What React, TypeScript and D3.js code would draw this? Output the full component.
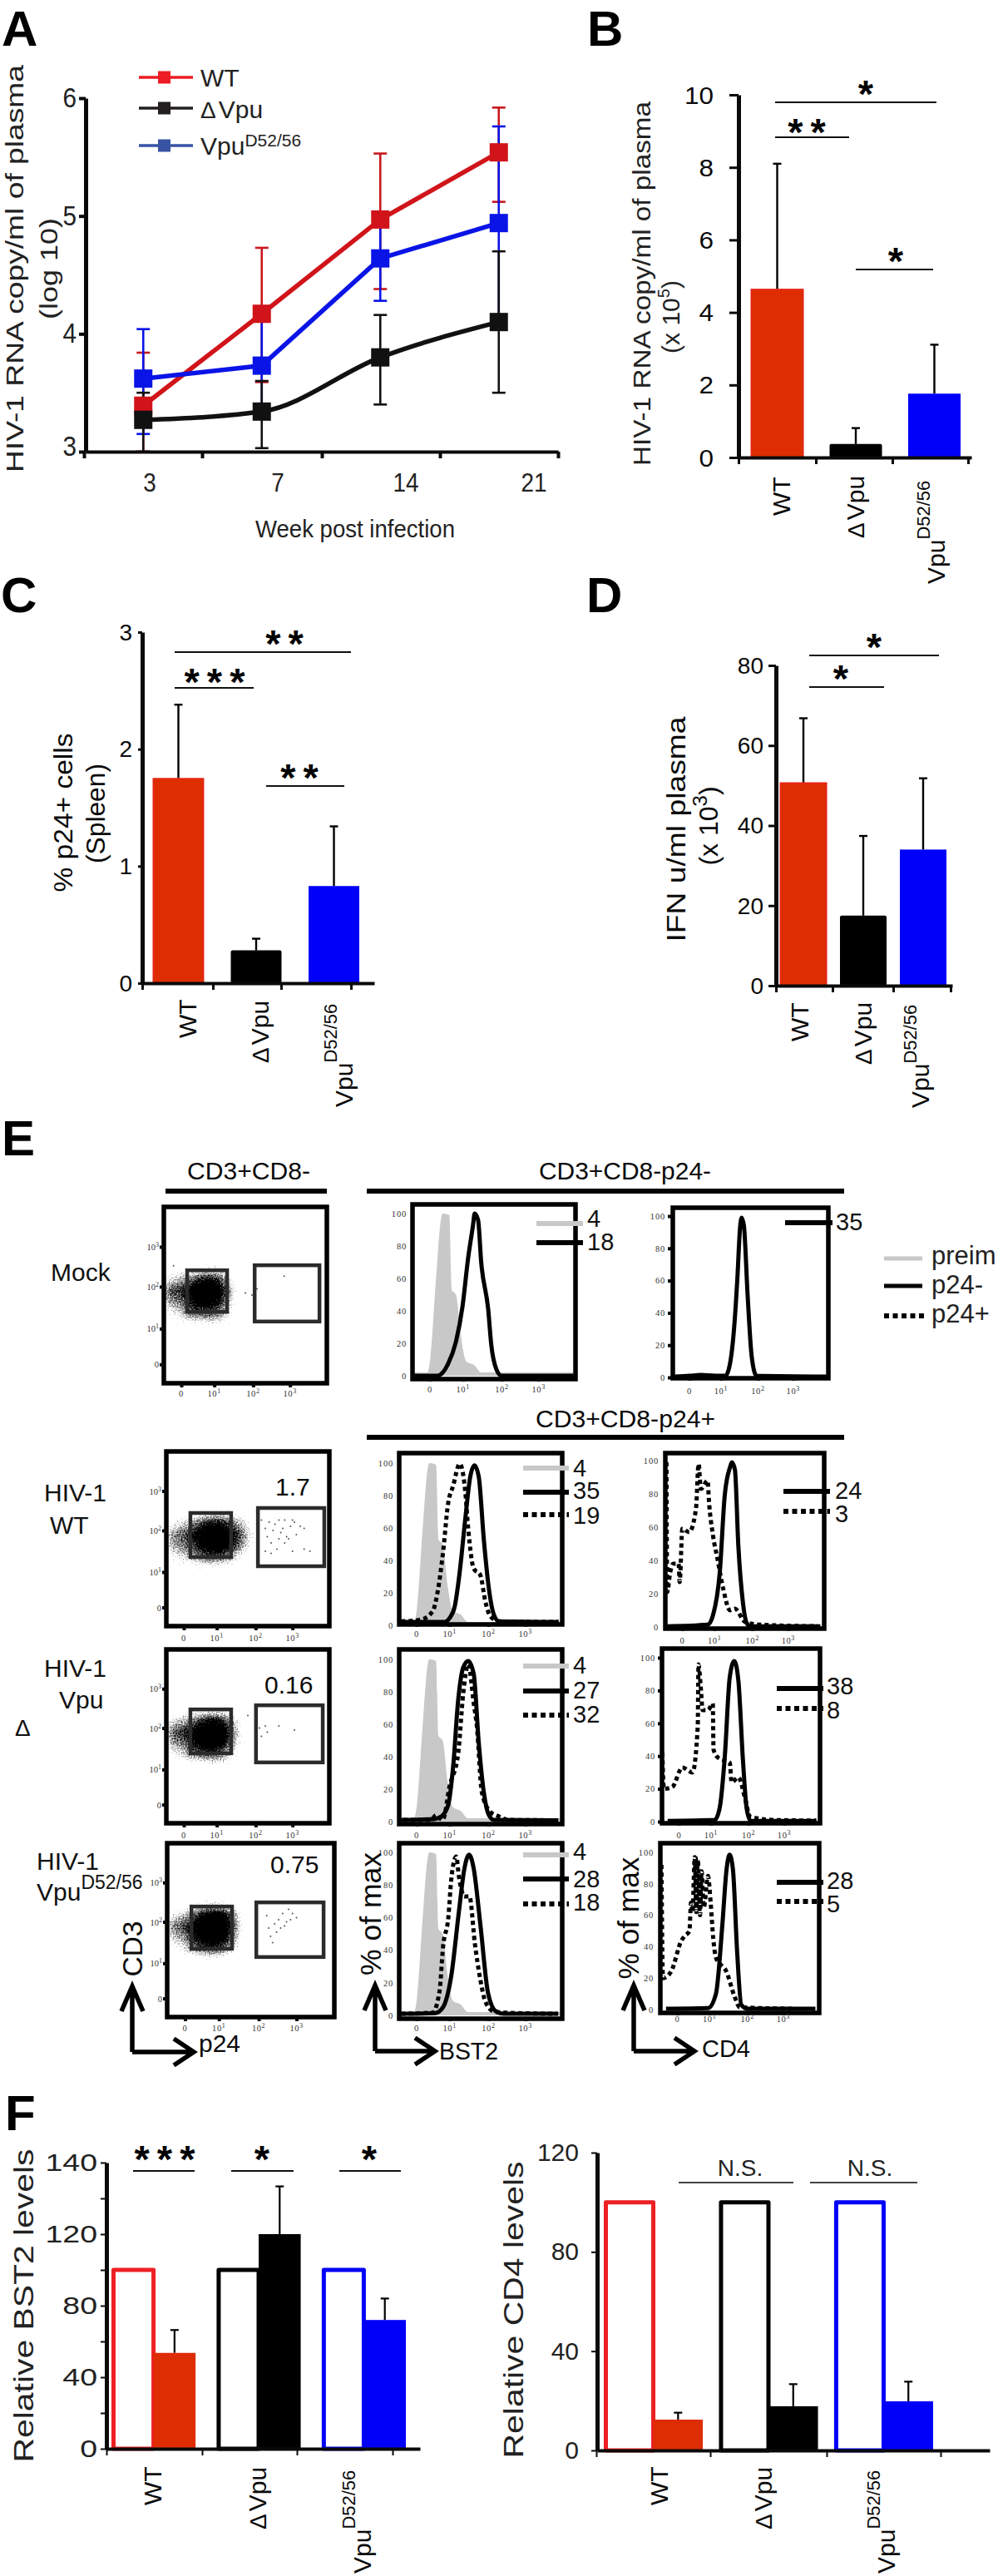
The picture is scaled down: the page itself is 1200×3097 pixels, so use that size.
import React, { useEffect, useRef } from "react";
import * as d3 from "d3";

// ---- data ----

// A: viral load over time
const weeks = ["3", "7", "14", "21"];
const wtLoad = [3.39, 4.17, 4.97, 5.54];
const wtLoadHi = [3.84, 4.73, 5.53, 5.92];
const wtLoadLo = [3.0, 3.59, 4.38, 5.12];
const dvLoad = [3.27, 3.34, 3.8, 4.1];
const dvLoadHi = [3.5, 3.6, 4.16, 4.7];
const dvLoadLo = [3.0, 3.03, 3.4, 3.5];
const d52Load = [3.62, 3.73, 4.64, 4.94];
const d52LoadHi = [4.04, 4.2, 5.0, 5.76];
const d52LoadLo = [3.15, 3.3, 4.28, 4.1];

// B, C, D: bars (WT, dVpu, Vpu D52/56)
const groups = ["WT", "dVpu", "D52"];
const rnaMean = [4.64, 0.37, 1.76];
const rnaErr = [8.1, 0.81, 3.11];
const p24Mean = [1.75, 0.28, 0.83];
const p24Err = [2.38, 0.38, 1.34];
const ifnMean = [50.7, 17.5, 34];
const ifnErr = [66.8, 37.4, 51.8];

// F: relative levels
const openLevel = [100, 100, 100];
const bst2Mean = [53.6, 120, 72];
const bst2Err = [66.4, 146.7, 84];
const bst2Ticks = [0, 40, 80, 120, 160];
const bst2TickLabels = ["0", "40", "80", "120", "140"];
const cd4Mean = [12.4, 17.8, 19.8];
const cd4Err = [15.2, 26.7, 27.7];

// E: histograms, [log10 channel, % of max]
type Pt = [number, number];
const preimBst2: Pt[] = [[-0.25, 2], [0.13, 2], [0.21, 11], [0.35, 58], [0.48, 96], [0.52, 100], [0.7, 99], [0.76, 53], [0.87, 50], [1.0, 24], [1.13, 9], [1.34, 6.5], [1.52, 2], [3.9, 2]];
const mockBst2Neg: Pt[] = [[-0.2, 0], [0.39, 0], [0.66, 7], [0.87, 21], [1.04, 43], [1.18, 72], [1.31, 93], [1.35, 100], [1.44, 96], [1.52, 70], [1.7, 41], [1.78, 19], [1.91, 4], [2.04, 0], [3.9, 0]];
const mockCd4Neg: Pt[] = [[-0.2, 0.5], [0.2, 1], [0.5, 1.5], [0.9, 1], [1.17, 1], [1.29, 8], [1.41, 32], [1.49, 60], [1.57, 94], [1.61, 99], [1.67, 94], [1.77, 51], [1.88, 13], [2.01, 1], [3.9, 0.5]];
const wtBst2Neg: Pt[] = [[-0.2, 2], [0.92, 2], [1.05, 4.5], [1.18, 11.5], [1.31, 33], [1.45, 65], [1.58, 91.5], [1.69, 98.6], [1.8, 91.5], [1.93, 53], [2.06, 22.7], [2.19, 6.5], [2.32, 2.4], [3.85, 2]];
const wtBst2Pos: Pt[] = [[-0.2, 2.4], [0.3, 3.4], [0.61, 8.5], [0.74, 20.6], [0.88, 45], [1.01, 75], [1.14, 86], [1.31, 99.6], [1.45, 83], [1.53, 59], [1.67, 35], [1.84, 31], [1.97, 14.6], [2.1, 5.5], [2.32, 2.4], [3.86, 2]];
const vpuBst2Neg: Pt[] = [[-0.2, 1], [0.66, 1.6], [0.83, 3], [1.01, 10], [1.14, 34], [1.27, 75], [1.4, 95], [1.53, 99], [1.67, 91], [1.8, 48.5], [1.93, 18], [2.06, 4], [2.19, 1], [3.85, 0.8]];
const vpuBst2Pos: Pt[] = [[-0.14, 1], [0.57, 1], [0.7, 4], [0.87, 1], [1.05, 22], [1.27, 42], [1.4, 79], [1.53, 97], [1.67, 73], [1.75, 59], [1.88, 18], [2.1, 6], [2.28, 3.6], [2.59, 1], [3.82, 0.8]];
const d52Bst2Neg: Pt[] = [[-0.2, 1], [0.68, 1.4], [0.88, 5], [1.09, 24], [1.29, 64], [1.43, 90], [1.55, 98.6], [1.67, 90], [1.84, 56], [2.04, 13.6], [2.24, 2.5], [2.45, 1], [3.85, 1]];
const d52Bst2Pos: Pt[] = [[-0.2, 1], [0.61, 1.7], [0.79, 15], [0.88, 42], [1.02, 61], [1.09, 83], [1.22, 97.5], [1.29, 85], [1.43, 73], [1.56, 73], [1.7, 44], [1.84, 22], [1.97, 8.5], [2.18, 2.5], [2.45, 1.7], [3.81, 1]];
const wtCd4Neg: Pt[] = [[-0.2, 0.4], [0.87, 1.4], [1.01, 7], [1.19, 33], [1.32, 79], [1.46, 96], [1.51, 99], [1.59, 94.5], [1.68, 49], [1.8, 15], [1.9, 2.4], [1.99, 0.4], [3.85, 0.4]];
const wtCd4Pos: Pt[] = [[-0.22, 99], [-0.2, 21], [-0.12, 33], [-0.04, 38], [0.1, 38], [0.13, 27], [0.2, 59], [0.38, 57], [0.56, 71], [0.63, 98], [0.69, 83], [0.87, 88], [0.9, 77], [1.01, 55], [1.12, 42], [1.28, 23], [1.46, 10], [1.59, 11], [1.86, 3], [2.26, 1.4], [3.79, 0.4]];
const vpuCd4Neg: Pt[] = [[-0.1, 0.4], [1.15, 1], [1.28, 8], [1.42, 40], [1.55, 88], [1.67, 98], [1.78, 86], [1.9, 38], [2.0, 8], [2.11, 0.4], [3.85, 0.4]];
const vpuCd4Pos: Pt[] = [[-0.24, 42], [-0.2, 20], [0.02, 21], [0.29, 33], [0.56, 30], [0.7, 58], [0.72, 96], [0.78, 82], [0.83, 68], [0.97, 68], [1.1, 72], [1.12, 44], [1.24, 39], [1.55, 36], [1.6, 24], [1.78, 27], [1.96, 14], [2.09, 3], [2.72, 1], [3.85, 0.6]];
const d52Cd4Neg: Pt[] = [[-0.1, 0.5], [1.01, 0.9], [1.22, 10], [1.39, 54], [1.5, 89], [1.58, 98.6], [1.67, 89], [1.78, 37], [1.89, 3], [2.06, 0.5], [3.85, 0.5]];
const d52Cd4Pos: Pt[] = [[-0.22, 92], [-0.18, 20], [0.03, 24], [0.31, 44], [0.4, 47], [0.52, 50], [0.56, 68], [0.6, 62], [0.66, 97], [0.7, 62], [0.74, 96], [0.8, 60], [0.84, 88], [0.9, 65], [1.01, 85], [1.08, 68], [1.15, 45], [1.22, 33], [1.5, 24], [1.71, 8.5], [1.85, 1.5], [3.32, 0.5]];

// E: dot plots, density on a grid of log10 channels
const cloudCols = [-0.1, 0.15, 0.4, 0.65, 0.9, 1.15, 1.4, 1.65, 1.9, 2.15];
const cloudRows = [2.45, 2.2, 1.95, 1.7, 1.45, 1.25];
const mockCloud = [
  [0.05, 0.1, 0.15, 0.2, 0.25, 0.2, 0.1, 0, 0, 0],
  [0.3, 0.4, 0.5, 0.7, 0.8, 0.7, 0.35, 0.05, 0, 0],
  [0.6, 0.65, 0.8, 1, 1, 0.95, 0.5, 0.1, 0, 0],
  [0.45, 0.5, 0.7, 0.9, 0.9, 0.8, 0.4, 0.05, 0, 0],
  [0.2, 0.3, 0.5, 0.6, 0.6, 0.5, 0.25, 0.03, 0, 0],
  [0.03, 0.1, 0.2, 0.2, 0.25, 0.25, 0.1, 0, 0, 0],
];
const wtCloud = [
  [0.03, 0.05, 0.1, 0.2, 0.25, 0.25, 0.2, 0.12, 0.05, 0],
  [0.2, 0.3, 0.45, 0.65, 0.8, 0.8, 0.6, 0.4, 0.15, 0.02],
  [0.45, 0.55, 0.7, 0.9, 1, 1, 0.85, 0.6, 0.25, 0.05],
  [0.4, 0.5, 0.6, 0.8, 1, 1, 0.8, 0.5, 0.2, 0.03],
  [0.2, 0.3, 0.4, 0.55, 0.65, 0.6, 0.45, 0.2, 0.05, 0],
  [0.03, 0.08, 0.12, 0.2, 0.2, 0.2, 0.1, 0.03, 0, 0],
];
const vpuCloud = [
  [0.03, 0.08, 0.15, 0.2, 0.25, 0.2, 0.15, 0.05, 0, 0],
  [0.3, 0.4, 0.5, 0.7, 0.85, 0.8, 0.45, 0.15, 0.03, 0],
  [0.55, 0.65, 0.8, 1, 1, 1, 0.65, 0.2, 0.03, 0],
  [0.45, 0.5, 0.7, 0.9, 1, 0.9, 0.55, 0.15, 0.02, 0],
  [0.2, 0.3, 0.5, 0.6, 0.65, 0.55, 0.3, 0.08, 0, 0],
  [0.02, 0.08, 0.15, 0.15, 0.2, 0.2, 0.1, 0.05, 0, 0],
];
const d52Cloud = [
  [0.02, 0.05, 0.15, 0.25, 0.3, 0.25, 0.12, 0.03, 0, 0],
  [0.25, 0.35, 0.55, 0.8, 0.95, 0.9, 0.5, 0.12, 0, 0],
  [0.5, 0.6, 0.8, 1, 1, 1, 0.6, 0.15, 0, 0],
  [0.35, 0.45, 0.7, 0.9, 1, 0.95, 0.5, 0.1, 0, 0],
  [0.15, 0.25, 0.5, 0.65, 0.7, 0.6, 0.3, 0.05, 0, 0],
  [0.01, 0.05, 0.15, 0.2, 0.25, 0.2, 0.08, 0, 0, 0],
];
const mockStray: Pt[] = [[0.0, 2.55], [1.85, 1.9], [2.02, 1.85], [2.15, 2.0], [2.85, 2.3]];
const wtStray: Pt[] = [[2.2, 2.3], [2.3, 2.1], [2.35, 1.9], [2.4, 2.25], [2.45, 1.75], [2.5, 2.05], [2.55, 2.2], [2.6, 1.6], [2.65, 2.3], [2.65, 1.85], [2.7, 2.0], [2.75, 2.1], [2.8, 2.3], [2.8, 1.75], [2.85, 1.9], [2.9, 1.85], [2.95, 2.15], [3.0, 2.3], [3.0, 1.55], [3.05, 2.25], [3.1, 1.95], [3.2, 2.15], [3.3, 2.1], [3.3, 1.6], [3.45, 1.55], [2.3, 1.55], [2.45, 1.5]];
const vpuStray: Pt[] = [[1.85, 2.35], [2.15, 2.05], [2.3, 2.1], [2.35, 1.95], [2.65, 2.1], [3.05, 2.0], [2.2, 1.85]];
const d52Stray: Pt[] = [[2.25, 2.2], [2.3, 1.9], [2.35, 1.7], [2.45, 2.0], [2.5, 1.8], [2.55, 2.1], [2.6, 1.9], [2.65, 2.25], [2.7, 1.95], [2.75, 2.05], [2.8, 2.35], [2.85, 2.1], [2.9, 2.25], [2.4, 1.55], [3.0, 2.15]];
const decadeTicks = [0.2, 1.05, 2.05, 3.0];
const decadeLabels = ["0", "1", "2", "3"];

// ---- colours ----
const RED = "#de2d02";
const RED_EDGE = "#ed2024";
const BLUE = "#0000f8";
const INK = "#0a0a0a";
const GREY = "#c8c8c8";
const SANS = "'Liberation Sans', Arial, sans-serif";
const SERIF = "'Liberation Serif', serif";

type G = d3.Selection<any, any, any, any>;
type Seg = string | { t: string; size?: number; dy?: number; dx?: number };
interface TextOpts {
  size?: number; rot?: number; sx?: number; anchor?: string; weight?: string;
  fill?: string; len?: number; family?: string; ls?: number;
}

function put(g: G, content: Seg | Seg[], x: number, y: number, o: TextOpts = {}) {
  const t = g.append("text")
    .attr("transform", `translate(${x},${y}) rotate(${o.rot || 0}) scale(${o.sx || 1},1)`)
    .attr("font-family", o.family || SANS)
    .attr("font-size", o.size || 30)
    .attr("font-weight", o.weight || "normal")
    .attr("text-anchor", o.anchor || "start")
    .attr("fill", o.fill || INK);
  if (o.ls) t.attr("letter-spacing", o.ls);
  if (o.len) t.attr("textLength", o.len).attr("lengthAdjust", "spacingAndGlyphs");
  const segs = Array.isArray(content) ? content : [content];
  segs.forEach((s) => {
    const seg = typeof s === "string" ? { t: s } : s;
    const sp = t.append("tspan").text(seg.t);
    if (seg.size) sp.attr("font-size", seg.size);
    if (seg.dy) sp.attr("dy", seg.dy);
    if (seg.dx) sp.attr("dx", seg.dx);
  });
  return t;
}

const vpuSup = (rise = 18): Seg[] => ["Vpu", { t: "D52/56", size: 22, dy: -rise }];
const deltaVpu: Seg[] = [{ t: "\u0394", size: 28 }, { t: "Vpu", dx: 3 }];

function styleAxis(a: G, width: number, color = INK) {
  a.selectAll("path,line").attr("stroke", color).attr("stroke-width", width);
  a.selectAll("text").remove();
}

// vertical rotated text centred on y
function yTitle(g: G, content: Seg | Seg[], x: number, y: number, o: TextOpts = {}) {
  put(g, content, x, y, { rot: -90, anchor: "middle", ...o });
}

function stars(g: G, text: string, x: number, y: number, ls = 9) {
  put(g, text, x + ls / 2, y + 26, { size: 47, weight: "bold", anchor: "middle", ls, fill: "#000" });
}

function sigLine(g: G, x1: number, x2: number, y: number, color = "#111") {
  g.append("line").attr("x1", x1).attr("x2", x2).attr("y1", y).attr("y2", y)
    .attr("stroke", color).attr("stroke-width", 2.2);
}

function errorBar(g: G, x: number, y1: number, y2: number, cap: number, color = "#000", w = 2.4) {
  g.append("line").attr("x1", x).attr("x2", x).attr("y1", y1).attr("y2", y2)
    .attr("stroke", color).attr("stroke-width", w);
  g.append("line").attr("x1", x - cap).attr("x2", x + cap).attr("y1", y2).attr("y2", y2)
    .attr("stroke", color).attr("stroke-width", w);
}

const barFill = [RED, "#000", BLUE];

function axesFor(g: G, axisX: number, axisY: number, xEnd: number, y: d3.ScaleLinear<number, number>,
  yTicks: number[], xPos: number[], tickLen: number, w: number, tw = 3) {
  const ya = g.append("g").attr("transform", `translate(${axisX},0)`)
    .call(d3.axisLeft(y).tickValues(yTicks).tickSize(tickLen).tickSizeOuter(0) as any);
  styleAxis(ya, tw);
  ya.select(".domain").attr("stroke-width", w);
  const xs = d3.scaleLinear().domain([axisX, xEnd]).range([axisX, xEnd]);
  const xa = g.append("g").attr("transform", `translate(0,${axisY})`)
    .call(d3.axisBottom(xs).tickValues(xPos).tickSize(8).tickSizeOuter(0) as any);
  styleAxis(xa, tw);
  xa.select(".domain").attr("stroke-width", w - 1);
}

interface BarCfg {
  axisX: number; axisTop: number; axisY: number; xEnd: number; domain: number;
  yTicks: number[]; labelRight: number; tickSize: number; tickFont: number; tickSx?: number;
  bandStart: number; bandEnd: number; inner: number; means: number[]; errs: number[];
  xTicks: number[]; wt: [number, number]; dv: [number, number]; vpu: [number, number]; rise: number;
}

function barPanel(g: G, c: BarCfg) {
  const y = d3.scaleLinear().domain([0, c.domain]).range([c.axisY, c.axisTop]);
  const x = d3.scaleBand<string>().domain(groups).range([c.bandStart, c.bandEnd]).paddingInner(c.inner);
  groups.forEach((k, i) => {
    const cx = (x(k) || 0) + x.bandwidth() / 2;
    errorBar(g, cx, y(c.means[i]), y(c.errs[i]), 5);
    g.append("rect").attr("x", x(k) || 0).attr("width", x.bandwidth())
      .attr("y", y(c.means[i])).attr("height", c.axisY - y(c.means[i]))
      .attr("fill", barFill[i]).attr("rx", i === 1 ? 2 : 0)
      .attr("stroke", i === 0 ? RED_EDGE : "none").attr("stroke-width", 1);
  });
  axesFor(g, c.axisX, c.axisY, c.xEnd, y, c.yTicks, c.xTicks, c.tickSize, 5);
  c.yTicks.forEach((t) => put(g, String(t), c.labelRight, y(t) + c.tickFont * 0.35, { size: c.tickFont, anchor: "end", sx: c.tickSx }));
  put(g, "WT", c.wt[0], c.wt[1], { rot: -90 });
  put(g, deltaVpu, c.dv[0], c.dv[1], { rot: -90 });
  put(g, vpuSup(c.rise), c.vpu[0], c.vpu[1], { rot: -90 });
}

interface PairCfg {
  axisX: number; axisTop: number; axisY: number; xEnd: number; domain: number; yTicks: number[];
  minor: number[]; tickFormat: string[]; labelRight: number; tickFont: number; tickSx?: number;
  bandStart: number; bandEnd: number; inner: number; means: number[]; errs: number[];
  xTicks: number[]; wt: [number, number]; dv: [number, number]; vpu: [number, number]; rise: number;
}

function pairPanel(g: G, c: PairCfg) {
  const y = d3.scaleLinear().domain([0, c.domain]).range([c.axisY, c.axisTop]);
  const x = d3.scaleBand<string>().domain(groups).range([c.bandStart, c.bandEnd]).paddingInner(c.inner);
  const sub = d3.scaleBand<string>().domain(["open", "fill"]).range([0, x.bandwidth()]);
  const outline = [RED_EDGE, "#000", BLUE];
  groups.forEach((k, i) => {
    const gx = x(k) || 0;
    const cx = gx + (sub("fill") || 0) + sub.bandwidth() / 2;
    errorBar(g, cx, y(c.means[i]), y(c.errs[i]), 5, "#000", 2.2);
    g.append("rect").attr("x", gx + 2.5).attr("y", y(openLevel[i]))
      .attr("width", sub.bandwidth() - 2.5).attr("height", c.axisY - y(openLevel[i]))
      .attr("fill", "#fff").attr("stroke", outline[i]).attr("stroke-width", 5).attr("stroke-linejoin", "round");
    g.append("rect").attr("x", gx + (sub("fill") || 0)).attr("y", y(c.means[i]))
      .attr("width", sub.bandwidth()).attr("height", c.axisY - y(c.means[i])).attr("fill", barFill[i]);
  });
  axesFor(g, c.axisX, c.axisY, c.xEnd, y, c.minor, c.xTicks, 7, 5, 2);
  c.yTicks.forEach((t, i) => put(g, c.tickFormat[i], c.labelRight, y(t) + c.tickFont * 0.33, { size: c.tickFont, anchor: "end", sx: c.tickSx, fill: "#222" }));
  put(g, "WT", c.wt[0], c.wt[1], { rot: -90 });
  put(g, deltaVpu, c.dv[0], c.dv[1], { rot: -90 });
  put(g, vpuSup(c.rise), c.vpu[0], c.vpu[1], { rot: -90 });
}

// log10 channel axis shared by the flow panels
const flowDomain: [number, number] = [-0.25, 3.95];

function decadeText(g: G, x: number, y: number, i: number) {
  const content: Seg[] = i === 0 ? ["0"] : ["10", { t: decadeLabels[i], size: 8, dy: -4 }];
  put(g, content, x, y, { size: 10.5, family: SERIF, anchor: "middle", fill: "#333", ls: 0.6 });
}

interface LegendRow { kind: "grey" | "solid" | "dots"; y: number; base: number; label: string; }
interface HistCfg {
  left: number; right: number; top: number; bottom: number; y0: number; y100: number; labY: number; pad: number; marks?: boolean;
  preim?: Pt[]; neg?: Pt[]; pos?: Pt[]; legendX: [number, number]; textX: number; rows: LegendRow[];
}

function legendLine(g: G, kind: string, x1: number, x2: number, y: number, w = 6) {
  g.append("line").attr("x1", x1).attr("x2", x2).attr("y1", y).attr("y2", y)
    .attr("stroke", kind === "grey" ? GREY : "#000").attr("stroke-width", w)
    .attr("stroke-dasharray", kind === "dots" ? "6 4.5" : null);
}

function histPanel(g: G, c: HistCfg) {
  const x = d3.scaleLinear().domain(flowDomain).range([c.left, c.right]);
  const y = d3.scaleLinear().domain([0, 100]).range([c.y0, c.y100]);
  const line = d3.line<Pt>().x((d) => x(d[0])).y((d) => y(d[1])).curve(d3.curveMonotoneX);
  if (c.preim) {
    const area = d3.area<Pt>().x((d) => x(d[0])).y0(c.y0).y1((d) => y(d[1])).curve(d3.curveMonotoneX);
    g.append("path").attr("d", area(c.preim)).attr("fill", GREY);
  }
  if (c.pos) g.append("path").attr("d", line(c.pos)).attr("fill", "none").attr("stroke", "#000")
    .attr("stroke-width", 5).attr("stroke-dasharray", "5 4");
  if (c.neg) g.append("path").attr("d", line(c.neg)).attr("fill", "none").attr("stroke", "#000")
    .attr("stroke-width", 5).attr("stroke-linejoin", "round");
  g.append("rect").attr("x", c.left).attr("y", c.top).attr("width", c.right - c.left).attr("height", c.bottom - c.top)
    .attr("fill", "none").attr("stroke", "#000").attr("stroke-width", 5.5);
  const ya = g.append("g").attr("transform", `translate(${c.left},0)`)
    .call(d3.axisLeft(y).tickValues([0, 20, 40, 60, 80, 100]).tickSize(c.pad) as any);
  ya.select(".domain").remove();
  ya.selectAll("line").attr("stroke", c.marks ? "#000" : "none").attr("stroke-width", 4);
  ya.selectAll("text").attr("font-family", SERIF).attr("font-size", 10.5).attr("fill", "#333").attr("letter-spacing", 0.8);
  const xa = g.append("g").attr("transform", `translate(0,${c.bottom})`).call(d3.axisBottom(x).tickValues(decadeTicks).tickSize(3) as any);
  styleAxis(xa, 4);
  xa.select(".domain").remove();
  decadeTicks.forEach((d, i) => decadeText(g, x(d), c.labY, i));
  c.rows.forEach((r) => {
    legendLine(g, r.kind, c.legendX[0], c.legendX[1], r.y);
    put(g, r.label, c.textX, r.base, { size: 29, fill: "#111" });
  });
}

interface DotCfg {
  left: number; right: number; top: number; bottom: number; labY: number; cloud: number[][]; stray: Pt[];
  gateNeg: number[]; gatePos: number[]; pct?: string; pctX?: number; pctBase?: number;
}

function dotPanel(g: G, c: DotCfg) {
  const x = d3.scaleLinear().domain(flowDomain).range([c.left, c.right]);
  const y = d3.scaleLinear().domain(flowDomain).range([c.bottom, c.top]);
  const cw = x(cloudCols[1]) - x(cloudCols[0]);
  const ch = y(cloudRows[1]) - y(cloudRows[0]);
  const cells = g.append("g").attr("filter", "url(#speckle)");
  c.cloud.forEach((row, r) => row.forEach((v, k) => {
    if (v <= 0) return;
    cells.append("rect").attr("x", x(cloudCols[k]) - cw / 2).attr("y", y(cloudRows[r]) - ch / 2)
      .attr("width", cw).attr("height", ch).attr("fill", "#000").attr("opacity", v);
  }));
  c.stray.forEach((p) => g.append("circle").attr("cx", x(p[0])).attr("cy", y(p[1])).attr("r", 1).attr("fill", "#555"));
  [c.gateNeg, c.gatePos].forEach((b) => {
    g.append("rect").attr("x", x(b[0])).attr("y", y(b[3])).attr("width", x(b[1]) - x(b[0])).attr("height", y(b[2]) - y(b[3]))
      .attr("fill", "none").attr("stroke", "#2b2b2b").attr("stroke-width", 4.5);
  });
  g.append("rect").attr("x", c.left).attr("y", c.top).attr("width", c.right - c.left).attr("height", c.bottom - c.top)
    .attr("fill", "none").attr("stroke", "#000").attr("stroke-width", 5.5);
  const ya = g.append("g").attr("transform", `translate(${c.left},0)`).call(d3.axisLeft(y).tickValues(decadeTicks).tickSize(5) as any);
  styleAxis(ya, 4);
  ya.select(".domain").remove();
  const xa = g.append("g").attr("transform", `translate(0,${c.bottom})`).call(d3.axisBottom(x).tickValues(decadeTicks).tickSize(5) as any);
  styleAxis(xa, 4);
  xa.select(".domain").remove();
  decadeTicks.forEach((d, i) => {
    decadeText(g, x(d), c.labY, i);
    const content: Seg[] = i === 0 ? ["0"] : ["10", { t: decadeLabels[i], size: 8, dy: -4 }];
    put(g, content, c.left - 6, y(d) + 4, { size: 10.5, family: SERIF, anchor: "end", fill: "#333" });
  });
  if (c.pct) put(g, c.pct, c.pctX || 0, c.pctBase || 0, { size: 30 });
}

function arrow(g: G, ax: number, ay: number, topY: number, rightX: number) {
  const p = d3.path();
  p.moveTo(ax, ay); p.lineTo(ax, topY);
  p.moveTo(ax - 13, topY + 30); p.lineTo(ax, topY); p.lineTo(ax + 13, topY + 30);
  p.moveTo(ax, ay); p.lineTo(rightX, ay);
  p.moveTo(rightX - 24, ay - 16); p.lineTo(rightX, ay); p.lineTo(rightX - 24, ay + 16);
  g.append("path").attr("d", p.toString()).attr("fill", "none").attr("stroke", "#000").attr("stroke-width", 5.5);
}

function drawFigure(svg: G) {
  // panel letters
  const letters: [string, number, number][] = [["A", 2, 55], ["B", 706, 55], ["C", 1, 736], ["D", 705, 736], ["E", 2, 1389], ["F", 6, 2561]];
  letters.forEach(([l, x, y]) => put(svg, l, x, y, { size: 60, weight: "bold", fill: "#000" }));

  // ---- A ----
  const a = svg.append("g");
  const ay = d3.scaleLinear().domain([3, 6]).range([543, 118]);
  const ax = d3.scaleBand<string>().domain(weeks).range([101, 671]);
  const axTicks = [101, 243, 387, 529, 671];
  const cx = (w: string) => (ax(w) || 0) + ax.bandwidth() / 2;
  const series = [
    { mean: wtLoad, hi: wtLoadHi, lo: wtLoadLo, color: "#d0141a", err: "#c8181e", curve: d3.curveLinear },
    { mean: d52Load, hi: d52LoadHi, lo: d52LoadLo, color: "#0a14e6", err: "#0a14e6", curve: d3.curveLinear },
    { mean: dvLoad, hi: dvLoadHi, lo: dvLoadLo, color: "#111", err: "#111", curve: d3.curveMonotoneX },
  ];
  series.forEach((s) => weeks.forEach((w, i) => {
    const px = cx(w);
    a.append("line").attr("x1", px).attr("x2", px).attr("y1", ay(s.lo[i])).attr("y2", ay(s.hi[i])).attr("stroke", s.err).attr("stroke-width", 2.6);
    [s.lo[i], s.hi[i]].forEach((v) => a.append("line").attr("x1", px - 8).attr("x2", px + 8).attr("y1", ay(v)).attr("y2", ay(v)).attr("stroke", s.err).attr("stroke-width", 2.6));
  }));
  series.forEach((s) => {
    const line = d3.line<number>().x((_, i) => cx(weeks[i])).y((d) => ay(d)).curve(s.curve);
    a.append("path").attr("d", line(s.mean)).attr("fill", "none").attr("stroke", s.color).attr("stroke-width", 5.5);
    s.mean.forEach((v, i) => a.append("rect").attr("x", cx(weeks[i]) - 11).attr("y", ay(v) - 11).attr("width", 22).attr("height", 22).attr("fill", s.color));
  });
  axesFor(a, 103, 543, 671, ay, [3, 4, 5, 6], axTicks, 8, 5, 4);
  [3, 4, 5, 6].forEach((t) => put(a, String(t), 92, ay(t) + (t === 3 ? 5 : 11), { size: 33, anchor: "end", sx: 0.9, fill: "#222" }));
  const weekLabel = d3.scalePoint<string>().domain(weeks).range([180, 642]);
  weeks.forEach((w) => put(a, w, weekLabel(w) || 0, 591, { size: 31, anchor: "middle", sx: 0.9, fill: "#222" }));
  put(a, "Week post infection", 307, 646, { size: 30, len: 240, fill: "#222" });
  yTitle(a, "HIV-1 RNA copy/ml of plasma", 28, 323, { size: 30, len: 490, fill: "#222" });
  yTitle(a, "(log 10)", 69, 323, { size: 30, len: 122, fill: "#222" });
  const legA = [{ y: 93, c: "#ed1c24", base: 104 }, { y: 130, c: "#231f20", base: 142 }, { y: 175, c: "#3953a4", base: 186 }];
  legA.forEach((l) => {
    a.append("line").attr("x1", 167).attr("x2", 232).attr("y1", l.y).attr("y2", l.y).attr("stroke", l.c).attr("stroke-width", 3.5);
    a.append("rect").attr("x", 190).attr("y", l.y - 7.5).attr("width", 15).attr("height", 15).attr("fill", l.c);
  });
  put(a, "WT", 241, 104, { fill: "#222" });
  put(a, deltaVpu, 241, 142, { fill: "#222" });
  put(a, ["Vpu", { t: "D52/56", size: 21, dy: -10 }], 241, 186, { fill: "#222" });

  // ---- B ----
  const b = svg.append("g");
  barPanel(b, {
    axisX: 888, axisTop: 114, axisY: 550, xEnd: 1168, domain: 10, yTicks: [0, 2, 4, 6, 8, 10], labelRight: 858, tickSize: 11,
    tickFont: 30, tickSx: 1.05, bandStart: 903, bandEnd: 1155, inner: 0.333, means: rnaMean, errs: rnaErr,
    xTicks: [888, 981, 1073, 1164], wt: [950, 620], dv: [1039, 647], vpu: [1136, 702], rise: 18,
  });
  sigLine(b, 932, 1126, 123); stars(b, "*", 1041, 103);
  sigLine(b, 932, 1021, 165); stars(b, "**", 970, 149);
  sigLine(b, 1029, 1122, 324); stars(b, "*", 1077, 304);
  yTitle(b, "HIV-1 RNA copy/ml of plasma", 782, 341, { size: 30, len: 438, fill: "#222" });
  yTitle(b, ["(x 10", { t: "5", size: 20, dy: -12 }, { t: ")", dy: 12 }], 817, 381, { size: 30, fill: "#222" });

  // ---- C ----
  const c = svg.append("g");
  barPanel(c, {
    axisX: 171, axisTop: 760, axisY: 1182, xEnd: 450, domain: 3, yTicks: [0, 1, 2, 3], labelRight: 159, tickSize: 5,
    tickFont: 28, bandStart: 184, bandEnd: 432, inner: 0.348, means: p24Mean, errs: p24Err,
    xTicks: [171, 256, 338, 422], wt: [236, 1248], dv: [323, 1278], vpu: [424, 1331], rise: 19,
  });
  sigLine(c, 210, 422, 784); stars(c, "**", 342, 764);
  sigLine(c, 210, 305, 827); stars(c, "***", 258, 810);
  sigLine(c, 320, 414, 945); stars(c, "**", 360, 925);
  yTitle(c, "% p24+ cells", 87, 977, { size: 32, len: 191 });
  yTitle(c, "(Spleen)", 126, 978, { size: 32, len: 120 });

  // ---- D ----
  const dp = svg.append("g");
  barPanel(dp, {
    axisX: 933, axisTop: 800, axisY: 1185, xEnd: 1145, domain: 80, yTicks: [0, 20, 40, 60, 80], labelRight: 918, tickSize: 9,
    tickFont: 28, bandStart: 938, bandEnd: 1138, inner: 0.222, means: ifnMean, errs: ifnErr,
    xTicks: [933, 1001, 1074, 1143], wt: [972, 1252], dv: [1048, 1280], vpu: [1117, 1332], rise: 15,
  });
  sigLine(dp, 973, 1129, 788); stars(dp, "*", 1051, 768);
  sigLine(dp, 973, 1063, 826); stars(dp, "*", 1011, 806);
  yTitle(dp, "IFN u/ml plasma", 824, 997, { size: 32, len: 271 });
  yTitle(dp, ["(x 10", { t: "3", size: 24, dy: -13 }, { t: ")", dy: 13 }], 863, 993, { size: 32 });

  // ---- E ----
  const e = svg.append("g");
  put(e, "CD3+CD8-", 225, 1418, { len: 148 });
  put(e, "CD3+CD8-p24-", 648, 1418, { len: 207 });
  put(e, "CD3+CD8-p24+", 644, 1716, { len: 216 });
  e.append("rect").attr("x", 199).attr("y", 1429).attr("width", 194).attr("height", 6).attr("fill", "#000");
  e.append("rect").attr("x", 441).attr("y", 1429).attr("width", 574).attr("height", 6).attr("fill", "#000");
  e.append("rect").attr("x", 441).attr("y", 1725).attr("width", 574).attr("height", 6).attr("fill", "#000");

  put(e, "Mock", 61, 1540, { fill: "#111" });
  put(e, "HIV-1", 53, 1805, { fill: "#111" });
  put(e, "WT", 60, 1844, { fill: "#111" });
  put(e, "HIV-1", 53, 2016, { fill: "#111" });
  put(e, "Vpu", 71, 2054, { fill: "#111" });
  put(e, "\u0394", 18, 2087, { fill: "#111", size: 28 });
  put(e, "HIV-1", 44, 2248, { fill: "#111" });
  put(e, ["Vpu", { t: "D52/56", size: 23, dy: -14 }], 44, 2285, { fill: "#111" });

  dotPanel(e, { left: 197, right: 393, top: 1451, bottom: 1663, labY: 1679, cloud: mockCloud, stray: mockStray, gateNeg: [0.35, 1.38, 1.45, 2.44], gatePos: [2.09, 3.76, 1.22, 2.56] });
  dotPanel(e, { left: 200, right: 396, top: 1745, bottom: 1955, labY: 1973, cloud: wtCloud, stray: wtStray, gateNeg: [0.37, 1.42, 1.41, 2.47], gatePos: [2.11, 3.82, 1.19, 2.59], pct: "1.7", pctX: 331, pctBase: 1798 });
  dotPanel(e, { left: 200, right: 396, top: 1983, bottom: 2192, labY: 2210, cloud: vpuCloud, stray: vpuStray, gateNeg: [0.37, 1.42, 1.44, 2.5], gatePos: [2.06, 3.78, 1.22, 2.6], pct: "0.16", pctX: 318, pctBase: 2036 });
  dotPanel(e, { left: 201, right: 402, top: 2216, bottom: 2425, labY: 2442, cloud: d52Cloud, stray: d52Stray, gateNeg: [0.36, 1.38, 1.4, 2.42], gatePos: [1.99, 3.68, 1.2, 2.52], pct: "0.75", pctX: 325, pctBase: 2252 });

  histPanel(e, {
    left: 496, right: 692, top: 1448, bottom: 1658, y0: 1654, y100: 1459, labY: 1674, pad: 4, preim: preimBst2, neg: mockBst2Neg,
    legendX: [645, 701], textX: 706, rows: [{ kind: "grey", y: 1471, base: 1475, label: "4" }, { kind: "solid", y: 1494, base: 1503, label: "18" }],
  });
  histPanel(e, {
    left: 809, right: 996, top: 1452, bottom: 1657, y0: 1656, y100: 1462, labY: 1676, pad: 6, marks: true, neg: mockCd4Neg,
    legendX: [944, 1001], textX: 1005, rows: [{ kind: "solid", y: 1470, base: 1479, label: "35" }],
  });
  histPanel(e, {
    left: 480, right: 676, top: 1747, bottom: 1953, y0: 1954, y100: 1759, labY: 1968, pad: 4, preim: preimBst2, neg: wtBst2Neg, pos: wtBst2Pos,
    legendX: [629, 684], textX: 689, rows: [{ kind: "grey", y: 1765, base: 1775, label: "4" }, { kind: "solid", y: 1794, base: 1802, label: "35" }, { kind: "dots", y: 1821, base: 1832, label: "19" }],
  });
  histPanel(e, {
    left: 800, right: 991, top: 1747, bottom: 1958, y0: 1956, y100: 1756, labY: 1976, pad: 5, neg: wtCd4Neg, pos: wtCd4Pos,
    legendX: [942, 998], textX: 1004, rows: [{ kind: "solid", y: 1793, base: 1802, label: "24" }, { kind: "dots", y: 1817, base: 1830, label: "3" }],
  });
  histPanel(e, {
    left: 480, right: 676, top: 1983, bottom: 2193, y0: 2190, y100: 1995, labY: 2210, pad: 4, preim: preimBst2, neg: vpuBst2Neg, pos: vpuBst2Pos,
    legendX: [629, 684], textX: 689, rows: [{ kind: "grey", y: 2003, base: 2012, label: "4" }, { kind: "solid", y: 2033, base: 2042, label: "27" }, { kind: "dots", y: 2062, base: 2071, label: "32" }],
  });
  histPanel(e, {
    left: 796, right: 986, top: 1982, bottom: 2192, y0: 2190, y100: 1993, labY: 2210, pad: 5, marks: true, neg: vpuCd4Neg, pos: vpuCd4Pos,
    legendX: [934, 990], textX: 994, rows: [{ kind: "solid", y: 2030, base: 2037, label: "38" }, { kind: "dots", y: 2054, base: 2066, label: "8" }],
  });
  histPanel(e, {
    left: 480, right: 676, top: 2216, bottom: 2427, y0: 2423, y100: 2227, labY: 2442, pad: 4, preim: preimBst2, neg: d52Bst2Neg, pos: d52Bst2Pos,
    legendX: [629, 684], textX: 689, rows: [{ kind: "grey", y: 2230, base: 2236, label: "4" }, { kind: "solid", y: 2259, base: 2269, label: "28" }, { kind: "dots", y: 2289, base: 2297, label: "18" }],
  });
  histPanel(e, {
    left: 794, right: 985, top: 2216, bottom: 2420, y0: 2416, y100: 2227, labY: 2431, pad: 5, neg: d52Cd4Neg, pos: d52Cd4Pos,
    legendX: [934, 990], textX: 994, rows: [{ kind: "solid", y: 2263, base: 2271, label: "28" }, { kind: "dots", y: 2286, base: 2299, label: "5" }],
  });

  // right legend
  legendLine(e, "grey", 1063, 1109, 1513, 5);
  legendLine(e, "solid", 1063, 1109, 1546, 5);
  legendLine(e, "dots", 1063, 1112, 1582, 6);
  put(e, "preim", 1120, 1520, { fill: "#222", size: 31 });
  put(e, "p24-", 1120, 1555, { fill: "#222", size: 31 });
  put(e, "p24+", 1120, 1590, { fill: "#222", size: 31 });

  // axis arrows
  arrow(e, 159, 2467, 2388, 233);
  arrow(e, 451, 2466, 2387, 523);
  arrow(e, 762, 2466, 2387, 835);
  yTitle(e, "CD3", 171, 2343, { size: 34, len: 67 });
  put(e, "p24", 239, 2467, {});
  put(e, "BST2", 528, 2476, { len: 71 });
  put(e, "CD4", 844, 2473, { len: 58 });
  yTitle(e, "% of max", 458, 2301, { size: 35, len: 148 });
  yTitle(e, "% of max", 768, 2306, { size: 35, len: 147 });

  // ---- F ----
  const f = svg.append("g");
  pairPanel(f, {
    axisX: 128, axisTop: 2600, axisY: 2944, xEnd: 505, domain: 160, yTicks: bst2Ticks, minor: [0, 20, 40, 60, 80, 100, 120, 140, 160],
    tickFormat: bst2TickLabels, labelRight: 117, tickFont: 30, tickSx: 1.25, bandStart: 134, bandEnd: 488, inner: 0.2,
    means: bst2Mean, errs: bst2Err, xTicks: [128, 243, 357, 472], wt: [194, 3012], dv: [320, 3041], vpu: [446, 3094], rise: 19,
  });
  sigLine(f, 160, 234, 2610); stars(f, "***", 198, 2586);
  sigLine(f, 278, 353, 2610); stars(f, "*", 315, 2586);
  sigLine(f, 408, 482, 2610); stars(f, "*", 444, 2586);
  yTitle(f, "Relative BST2 levels", 40, 2772, { size: 34, len: 377, fill: "#222" });

  const g2 = svg.append("g");
  pairPanel(g2, {
    axisX: 718, axisTop: 2588, axisY: 2946, xEnd: 1190, domain: 120, yTicks: [0, 40, 80, 120], minor: [0, 40, 80, 120],
    tickFormat: ["0", "40", "80", "120"], labelRight: 696, tickFont: 30, bandStart: 726, bandEnd: 1122, inner: 0.14,
    means: cd4Mean, errs: cd4Err, xTicks: [717, 854, 994, 1131], wt: [803, 3012], dv: [928, 3041], vpu: [1076, 3094], rise: 18,
  });
  sigLine(g2, 816, 954, 2624, "#444");
  sigLine(g2, 974, 1103, 2624, "#444");
  put(g2, "N.S.", 890, 2616, { size: 28, anchor: "middle", fill: "#222" });
  put(g2, "N.S.", 1046, 2616, { size: 28, anchor: "middle", fill: "#222" });
  yTitle(g2, "Relative CD4 levels", 629, 2777, { size: 34, len: 357, fill: "#222" });
}

export default function App() {
  const svgRef = useRef<SVGSVGElement>(null);

  useEffect(() => {
    if (!svgRef.current) return;
    const svg = d3.select(svgRef.current);
    svg.selectAll("*").remove();

    // grainy filter that turns the density grid into a dotted cloud
    const filter = svg.append("defs").append("filter").attr("id", "speckle")
      .attr("x", "-20%").attr("y", "-20%").attr("width", "140%").attr("height", "140%")
      .attr("color-interpolation-filters", "sRGB");
    filter.append("feGaussianBlur").attr("in", "SourceGraphic").attr("stdDeviation", 4).attr("result", "soft");
    filter.append("feTurbulence").attr("type", "fractalNoise").attr("baseFrequency", 0.6).attr("numOctaves", 1).attr("seed", 4).attr("result", "grain");
    filter.append("feColorMatrix").attr("in", "grain").attr("type", "matrix")
      .attr("values", "0 0 0 0 0  0 0 0 0 0  0 0 0 0 0  0 0 0 1 0").attr("result", "mask");
    filter.append("feComposite").attr("in", "soft").attr("in2", "mask").attr("operator", "arithmetic")
      .attr("k1", 0).attr("k2", 2.2).attr("k3", 1.6).attr("k4", -1.35);

    svg.append("rect").attr("width", 1200).attr("height", 3097).attr("fill", "#fff");
    drawFigure(svg as any);
  }, []);

  return (
    <svg
      ref={svgRef}
      width={1200}
      height={3097}
      style={{ position: "absolute", top: 0, left: 0, display: "block" }}
    />
  );
}
